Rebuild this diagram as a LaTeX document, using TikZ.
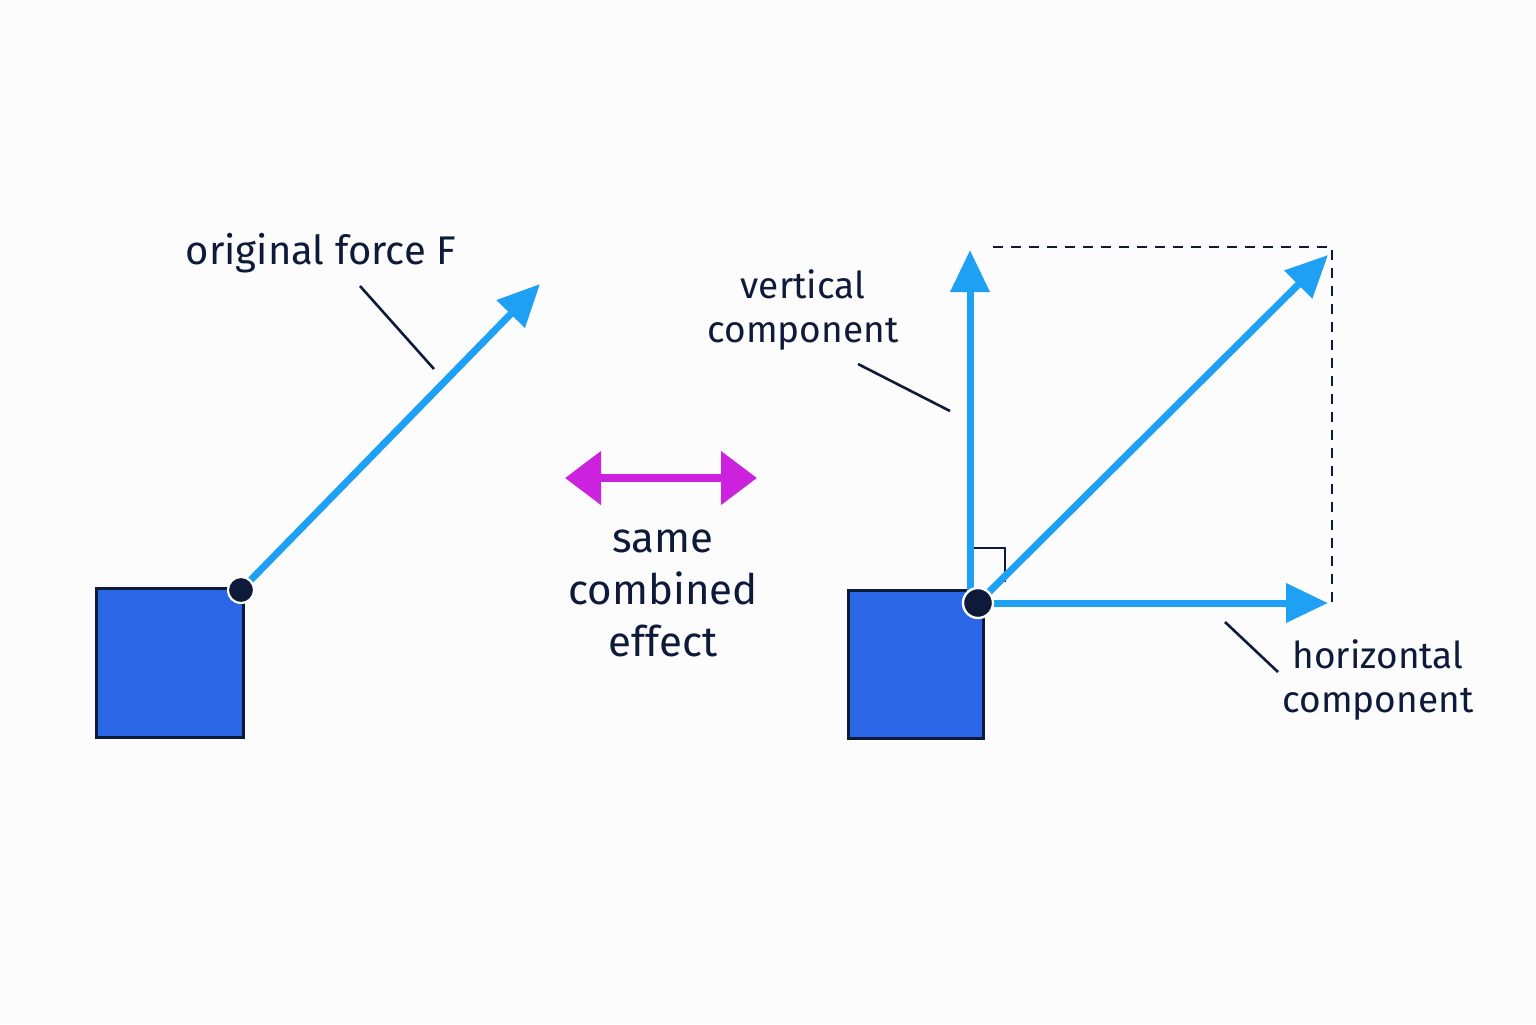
\documentclass[tikz,border=0pt]{standalone}
\usepackage{fontspec}
\setmainfont{Fira Sans}
\usetikzlibrary{arrows.meta}
\definecolor{blu}{HTML}{1EA0F5}
\definecolor{box}{HTML}{2B66E6}
\definecolor{navy}{HTML}{0E1A3A}
\definecolor{mag}{HTML}{CC22DD}
\begin{document}
\begin{tikzpicture}[x=0.5pt,y=-0.5pt,
  force/.style={blu,line width=3.5pt,-{Triangle[length=21pt,width=19pt]}},
  lead/.style={navy,line width=1.3pt},
  blk/.style={fill=box,draw=navy,line width=1.5pt},
  lbl/.style={text=navy,font=\fontsize{20}{26}\selectfont,align=center},
  dot/.style={circle,fill=navy,inner sep=0pt,minimum size=13pt}]
\fill[white!98!gray] (0,0) rectangle (1536,1024);
\useasboundingbox (0,0) rectangle (1536,1024);
% left
\path[blk] (96,588) rectangle (243,737);
\coordinate (tipL) at (540,284);
\node[dot,draw=white,line width=1pt] (dL) at (241,590) {};
\draw[force] (dL) -- (tipL);
\node[dot,draw=white,line width=1pt] at (241,590) {};
\node[lbl] (oF) at (321,253) {original force F};
\coordinate (a1) at (360,286); \coordinate (a2) at (434,369);
\draw[lead] (a1) -- (a2);
% middle
\coordinate (m1) at (565,478); \coordinate (m2) at (757,478);
\draw[mag,line width=4pt,{Triangle[length=18pt,width=26pt]}-{Triangle[length=18pt,width=26pt]}] (m1) -- (m2);
\node[lbl,font=\fontsize{21}{26}\selectfont] (same) at (663,593) {same\\combined\\effect};
% right
\path[blk] (848,590) rectangle (983,738);
\coordinate (o) at (978,603);
\coordinate (vb) at (970,592); \coordinate (vt) at (970,250);
\coordinate (ht) at (1328,603); \coordinate (dt) at (1328,255);
\draw[navy,line width=1.4pt,dash pattern=on 5pt off 4pt] (993,247) -- (1332,247) -- (1332,603);
\draw[navy,line width=1.3pt] (970,548) -- (1005,548) -- (1005,582);
\draw[force] (vb) -- (vt);
\draw[force] (o) -- (ht);
\draw[force] (o) -- (dt);
\node[dot,draw=white,line width=1.2pt,minimum size=15pt] (dR) at (o) {};
\node[lbl,font=\fontsize{18.5}{22}\selectfont] (vc) at (803,310) {vertical\\component};
\coordinate (b1) at (858,364); \coordinate (b2) at (950,411);
\draw[lead] (b1) -- (b2);
\node[lbl,font=\fontsize{18.5}{22}\selectfont] (hc) at (1378,680) {horizontal\\component};
\coordinate (c1) at (1225,622); \coordinate (c2) at (1278,672);
\draw[lead] (c1) -- (c2);
\end{tikzpicture}
\end{document}
